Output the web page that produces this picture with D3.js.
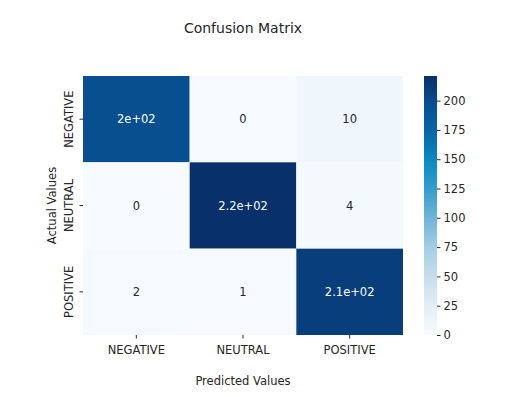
<!DOCTYPE html>
<html>
<head>
<meta charset="utf-8">
<script src="https://cdn.jsdelivr.net/npm/d3@7"></script>
<style>
  body { margin: 0; background: #fff; }
  svg text { font-family: "DejaVu Sans", sans-serif; fill: #262626; }
  .axis path { display: none; }
  .axis line { stroke: #262626; }
</style>
</head>
<body>
<svg id="chart" width="515" height="397"></svg>
<script>
const classes = ['NEGATIVE', 'NEUTRAL', 'POSITIVE'];
// rows = actual, columns = predicted
const counts = [
  [197, 0, 10],
  [0, 221, 4],
  [2, 1, 210],
];
const labels = [
  ['2e+02', '0', '10'],
  ['0', '2.2e+02', '4'],
  ['2', '1', '2.1e+02'],
];
const colorbarTicks = [0, 25, 50, 75, 100, 125, 150, 175, 200];
const VMAX = 221;

const PLOT = { left: 83, top: 76, width: 320, height: 259 };
const BAR = { left: 424, width: 13 };
const FONT = '11.5px';

// blues ramp
const RAMP = ['#f7fbff', '#e3eef8', '#c9ddee', '#a6cfe4', '#73b6d8',
  '#3a9fcc', '#0d8bc0', '#0868a8', '#07508f', '#08306b'];

const color = d3.scaleLinear()
  .domain(RAMP.map((c, i) => i * VMAX / (RAMP.length - 1)))
  .range(RAMP)
  .interpolate(d3.interpolateRgb);

const svg = d3.select('#chart');

const x = d3.scaleBand().domain(classes).range([0, PLOT.width]);
const y = d3.scaleBand().domain(classes).range([0, PLOT.height]);

const plot = svg.append('g')
  .attr('transform', `translate(${PLOT.left},${PLOT.top})`);

const cells = [];
counts.forEach((row, r) => row.forEach((v, c) => {
  cells.push({ actual: classes[r], predicted: classes[c], value: v, label: labels[r][c] });
}));

plot.selectAll('rect.cell')
  .data(cells)
  .enter()
.append('rect')
  .attr('class', 'cell')
  .attr('x', d => x(d.predicted))
  .attr('y', d => y(d.actual))
  .attr('width', x.bandwidth())
  .attr('height', y.bandwidth())
  .attr('fill', d => color(d.value));

plot.selectAll('text.annot')
  .data(cells)
  .enter()
.append('text')
  .attr('class', 'annot')
  .attr('x', d => x(d.predicted) + x.bandwidth() / 2)
  .attr('y', d => y(d.actual) + y.bandwidth() / 2)
  .attr('text-anchor', 'middle')
  .attr('dominant-baseline', 'central')
  .style('font-size', FONT)
  .style('fill', d => (d.value / VMAX > 0.5 ? '#ffffff' : '#262626'))
  .text(d => d.label);

const xAxis = plot.append('g').attr('class', 'axis')
  .attr('transform', `translate(0,${PLOT.height})`)
  .call(d3.axisBottom(x).tickSize(3.5).tickPadding(7));
xAxis.selectAll('text').style('font-size', FONT);

const yAxis = plot.append('g').attr('class', 'axis')
  .call(d3.axisLeft(y).tickSize(3.5).tickPadding(0));
yAxis.selectAll('text')
  .style('font-size', FONT)
  .attr('text-anchor', 'middle')
  .attr('dy', 0)
  .attr('transform', 'translate(-10,0) rotate(-90)')
  .attr('x', 0)
  .attr('y', 0);

// colorbar
const cb = svg.append('g')
  .attr('transform', `translate(${BAR.left},${PLOT.top})`);
const cy = d3.scaleLinear().domain([0, VMAX]).range([PLOT.height, 0]);

const grad = svg.append('defs').append('linearGradient')
  .attr('id', 'cbgrad')
  .attr('x1', 0).attr('y1', 1).attr('x2', 0).attr('y2', 0);
grad.selectAll('stop')
  .data(color.domain())
  .enter()
.append('stop')
  .attr('offset', d => d / VMAX)
  .attr('stop-color', d => color(d));

cb.append('rect')
  .attr('width', BAR.width)
  .attr('height', PLOT.height)
  .attr('fill', 'url(#cbgrad)');

const cbAxis = cb.append('g').attr('class', 'axis')
  .attr('transform', `translate(${BAR.width},0)`)
  .call(d3.axisRight(cy).tickValues(colorbarTicks).tickSize(3.5).tickPadding(3));
cbAxis.selectAll('text').style('font-size', FONT);

// titles
svg.append('text')
  .attr('x', PLOT.left + PLOT.width / 2)
  .attr('y', 33)
  .attr('text-anchor', 'middle')
  .style('font-size', '14px')
  .text('Confusion Matrix');

svg.append('text')
  .attr('x', PLOT.left + PLOT.width / 2)
  .attr('y', 385)
  .attr('text-anchor', 'middle')
  .style('font-size', FONT)
  .text('Predicted Values');

svg.append('text')
  .attr('transform', `translate(56,${PLOT.top + PLOT.height / 2}) rotate(-90)`)
  .attr('text-anchor', 'middle')
  .style('font-size', FONT)
  .text('Actual Values');
</script>
</body>
</html>
